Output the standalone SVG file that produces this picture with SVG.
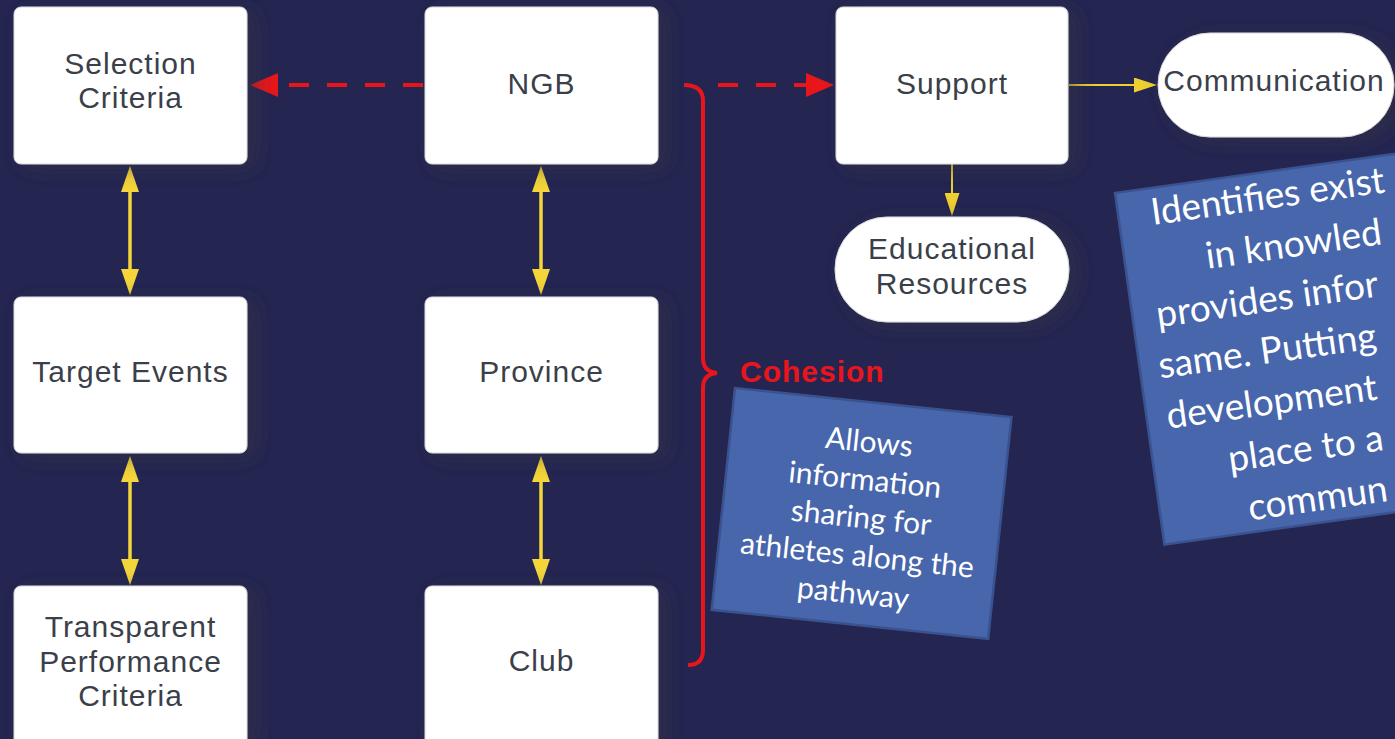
<svg xmlns="http://www.w3.org/2000/svg" width="1395" height="739" viewBox="0 0 1395 739">
<style>
.node{fill:#ffffff;stroke:#d8d8dc;stroke-width:1;filter:url(#sh);}
.lbl{font-family:"Liberation Sans",Arial,sans-serif;font-size:30px;letter-spacing:1px;fill:#3b3f4a;text-anchor:middle;}
.note{fill:#4866ac;stroke:#3a528f;stroke-width:2.5;}
.notetxt{font-family:Lato,"Open Sans",sans-serif;fill:#ffffff;}
.red{stroke:#e8161a;stroke-width:4;fill:none;}
.yel{stroke:#f5d63a;stroke-width:3.5;fill:none;}
.yelthin{stroke:#f0d030;stroke-width:2;fill:none;}
</style>
<defs>
<filter id="sh" x="-20%" y="-20%" width="150%" height="150%">
<feDropShadow dx="8" dy="4" stdDeviation="10" flood-color="#34353f" flood-opacity="0.55"/>
</filter>
<marker id="ra" markerUnits="userSpaceOnUse" markerWidth="28" markerHeight="24" refX="0" refY="12" orient="auto" viewBox="0 0 28 24">
<path d="M0,0 L28,12 L0,24 z" fill="#e8161a"/>
</marker>
<marker id="ya" markerUnits="userSpaceOnUse" markerWidth="26" markerHeight="18" refX="0" refY="9" orient="auto-start-reverse" viewBox="0 0 26 18">
<path d="M0,0 L26,9 L0,18 z" fill="#f5d63a"/>
</marker>
<marker id="ys" markerUnits="userSpaceOnUse" markerWidth="23" markerHeight="15" refX="0" refY="7.5" orient="auto" viewBox="0 0 23 15">
<path d="M0,0 L23,7.5 L0,15 z" fill="#f0d030"/>
</marker>
</defs>
<rect x="0" y="0" width="1395" height="739" fill="#242551"/>

<g id="connectors">
<line class="red" x1="423" y1="85" x2="278" y2="85" stroke-dasharray="20 18" marker-end="url(#ra)"/>
<line class="red" x1="700" y1="85" x2="806" y2="85" stroke-dasharray="20 18" stroke-dashoffset="20" marker-end="url(#ra)"/>
<path class="red" stroke-width="3.5" d="M684,85 Q703,85 703,101 L703,358 Q703,372 717,373 Q703,374 703,388 L703,650 Q703,665 688,665"/>
<line class="yel" x1="130" y1="192" x2="130" y2="269" marker-start="url(#ya)" marker-end="url(#ya)"/>
<line class="yel" x1="130" y1="482" x2="130" y2="559" marker-start="url(#ya)" marker-end="url(#ya)"/>
<line class="yel" x1="541" y1="192" x2="541" y2="269" marker-start="url(#ya)" marker-end="url(#ya)"/>
<line class="yel" x1="541" y1="482" x2="541" y2="559" marker-start="url(#ya)" marker-end="url(#ya)"/>
<line class="yelthin" x1="952" y1="164" x2="952" y2="193" marker-end="url(#ys)"/>
<line class="yelthin" x1="1069" y1="85" x2="1134" y2="85" marker-end="url(#ys)"/>
</g>

<g id="node-selection">
<rect class="node" x="14" y="7" width="233" height="157" rx="7"/>
<text class="lbl" x="130.5" y="74">Selection</text>
<text class="lbl" x="130.5" y="108">Criteria</text>
</g>
<g id="node-ngb">
<rect class="node" x="425" y="7" width="233" height="157" rx="7"/>
<text class="lbl" x="541.5" y="94">NGB</text>
</g>
<g id="node-support">
<rect class="node" x="836" y="7" width="232" height="157" rx="7"/>
<text class="lbl" x="952" y="94">Support</text>
</g>
<g id="node-communication">
<rect class="node" x="1158" y="33" width="236" height="104" rx="52"/>
<text class="lbl" x="1274" y="91">Communication</text>
</g>
<g id="node-educational">
<rect class="node" x="835" y="217" width="234" height="105" rx="52"/>
<text class="lbl" x="952" y="259">Educational</text>
<text class="lbl" x="952" y="294">Resources</text>
</g>
<g id="node-target">
<rect class="node" x="14" y="297" width="233" height="156" rx="7"/>
<text class="lbl" x="130.5" y="382">Target Events</text>
</g>
<g id="node-province">
<rect class="node" x="425" y="297" width="233" height="156" rx="7"/>
<text class="lbl" x="541.5" y="382">Province</text>
</g>
<g id="node-transparent">
<rect class="node" x="14" y="586" width="233" height="162" rx="7"/>
<text class="lbl" x="130.5" y="637">Transparent</text>
<text class="lbl" x="130.5" y="672">Performance</text>
<text class="lbl" x="130.5" y="706">Criteria</text>
</g>
<g id="node-club">
<rect class="node" x="425" y="586" width="233" height="162" rx="7"/>
<text class="lbl" x="541.5" y="671">Club</text>
</g>

<g id="label-cohesion">
<text x="740" y="382" font-family="'Liberation Sans',Arial,sans-serif" font-weight="bold" font-size="30" letter-spacing="1" fill="#e8161a">Cohesion</text>
</g>

<g id="note-cohesion" transform="translate(735,388) rotate(6)">
<rect class="note" x="0" y="0" width="278" height="223"/>
<g class="notetxt" font-size="30" text-anchor="middle">
<text x="139" y="50">Allows</text>
<text x="139" y="88">information</text>
<text x="139" y="126">sharing for</text>
<text x="139" y="164">athletes along the</text>
<text x="139" y="202">pathway</text>
</g>
</g>

<g id="note-support" transform="translate(1115,193) rotate(-8)">
<rect class="note" x="0" y="0" width="420" height="355"/>
<g class="notetxt" font-size="37">
<text x="33" y="37">Identifies exist</text>
<text x="81" y="88">in knowled</text>
<text x="24" y="139">provides infor</text>
<text x="19" y="190">same. Putting</text>
<text x="20" y="241">development</text>
<text x="75" y="292">place to a</text>
<text x="88" y="343">commun</text>
</g>
</g>
</svg>
